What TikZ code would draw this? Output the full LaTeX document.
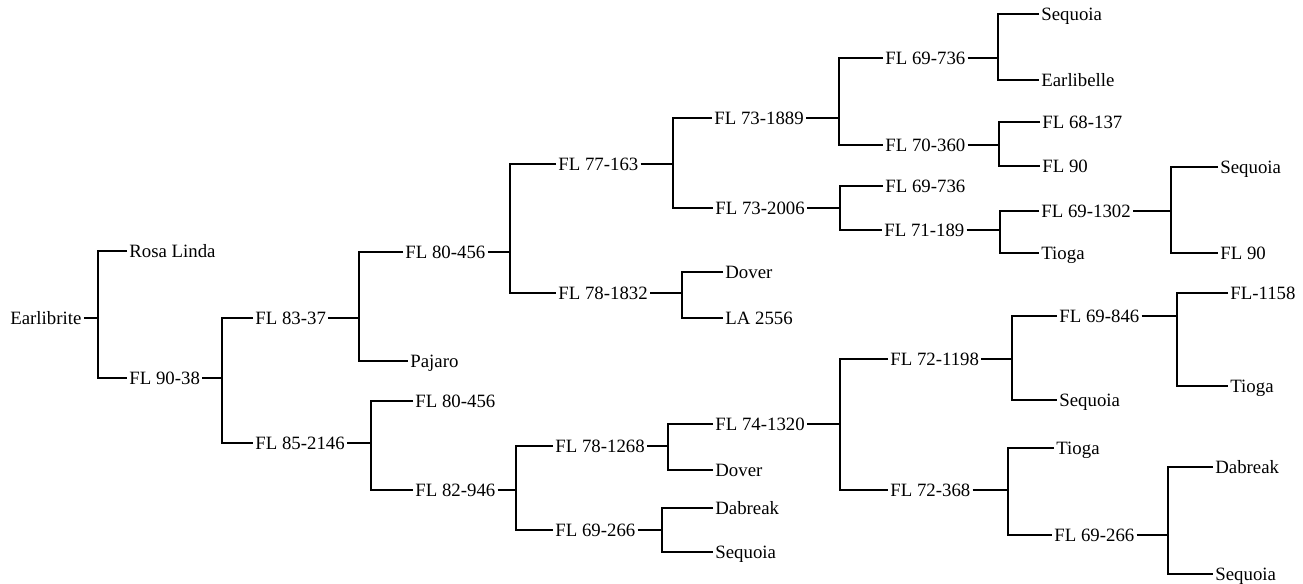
\documentclass[tikz,border=0pt]{standalone}
\usepackage{fontspec}
\setmainfont{Liberation Serif}
\begin{document}
\begin{tikzpicture}[x=0.5pt,y=-0.5pt,
	cv/.style={anchor=west, inner sep=1pt, text height=6.5pt, text depth=0pt, font=\fontsize{9.4}{11}\selectfont},
	link/.style={line width=0.95pt}]
	\useasboundingbox (0,0) rectangle (1303,584);
	% cultivars and selections
	\node[cv] (earlibrite) at (8,318) {Earlibrite};
	\node[cv] (rosalinda) at (127,251) {Rosa Linda};
	\node[cv] (fl9038) at (127,378) {FL 90-38};
	\node[cv] (fl8337) at (253,318) {FL 83-37};
	\node[cv] (fl852146) at (253,443) {FL 85-2146};
	\node[cv] (fl80456a) at (403,252) {FL 80-456};
	\node[cv] (pajaro) at (408,361) {Pajaro};
	\node[cv] (fl80456b) at (413,401) {FL 80-456};
	\node[cv] (fl82946) at (413,490) {FL 82-946};
	\node[cv] (fl77163) at (556,164) {FL 77-163};
	\node[cv] (fl781832) at (556,293) {FL 78-1832};
	\node[cv] (dover1) at (723,272) {Dover};
	\node[cv] (la2556) at (723,318) {LA 2556};
	\node[cv] (fl781268) at (553,446) {FL 78-1268};
	\node[cv] (fl69266a) at (553,530) {FL 69-266};
	\node[cv] (fl741320) at (713,424) {FL 74-1320};
	\node[cv] (dover2) at (713,470) {Dover};
	\node[cv] (dabreak1) at (713,508) {Dabreak};
	\node[cv] (sequoia3) at (713,552) {Sequoia};
	\node[cv] (fl731889) at (712,118) {FL 73-1889};
	\node[cv] (fl732006) at (713,208) {FL 73-2006};
	\node[cv] (fl69736a) at (883,58) {FL 69-736};
	\node[cv] (fl70360) at (883,145) {FL 70-360};
	\node[cv] (fl69736b) at (883,186) {FL 69-736};
	\node[cv] (fl71189) at (882,230) {FL 71-189};
	\node[cv] (sequoia1) at (1039,14) {Sequoia};
	\node[cv] (earlibelle) at (1039,80) {Earlibelle};
	\node[cv] (fl68137) at (1040,122) {FL 68-137};
	\node[cv] (fl90a) at (1040,166) {FL 90};
	\node[cv] (fl691302) at (1039,211) {FL 69-1302};
	\node[cv] (tioga1) at (1039,253) {Tioga};
	\node[cv] (sequoia2) at (1218,167) {Sequoia};
	\node[cv] (fl90b) at (1218,253) {FL 90};
	\node[cv] (fl721198) at (888,359) {FL 72-1198};
	\node[cv] (fl72368) at (888,490) {FL 72-368};
	\node[cv] (fl69846) at (1057,316) {FL 69-846};
	\node[cv] (sequoia4) at (1057,400) {Sequoia};
	\node[cv] (tioga2) at (1054,448) {Tioga};
	\node[cv] (fl69266b) at (1052,535) {FL 69-266};
	\node[cv] (fl1158) at (1228,293) {FL-1158};
	\node[cv] (tioga3) at (1228,386) {Tioga};
	\node[cv] (dabreak2) at (1213,467) {Dabreak};
	\node[cv] (sequoia5) at (1213,574) {Sequoia};
	% crosses: parent/first/second/bracket x
	\foreach \p/\a/\b/\x in {earlibrite/rosalinda/fl9038/98,
		fl9038/fl8337/fl852146/222, fl8337/fl80456a/pajaro/359,
		fl80456a/fl77163/fl781832/510, fl77163/fl731889/fl732006/673,
		fl781832/dover1/la2556/682, fl731889/fl69736a/fl70360/839,
		fl732006/fl69736b/fl71189/840, fl69736a/sequoia1/earlibelle/998,
		fl70360/fl68137/fl90a/999, fl71189/fl691302/tioga1/1000,
		fl691302/sequoia2/fl90b/1171, fl852146/fl80456b/fl82946/371,
		fl82946/fl781268/fl69266a/516, fl781268/fl741320/dover2/668,
		fl69266a/dabreak1/sequoia3/662, fl741320/fl721198/fl72368/840,
		fl721198/fl69846/sequoia4/1012, fl72368/tioga2/fl69266b/1008,
		fl69846/fl1158/tioga3/1177, fl69266b/dabreak2/sequoia5/1168}{
		\coordinate (k) at (\x,0);
		\draw[link] (\p.east) -- (\p.east -| k);
		\draw[link] (\a.west) -| (k |- \b.west) -- (\b.west);
	}
\end{tikzpicture}
\end{document}
